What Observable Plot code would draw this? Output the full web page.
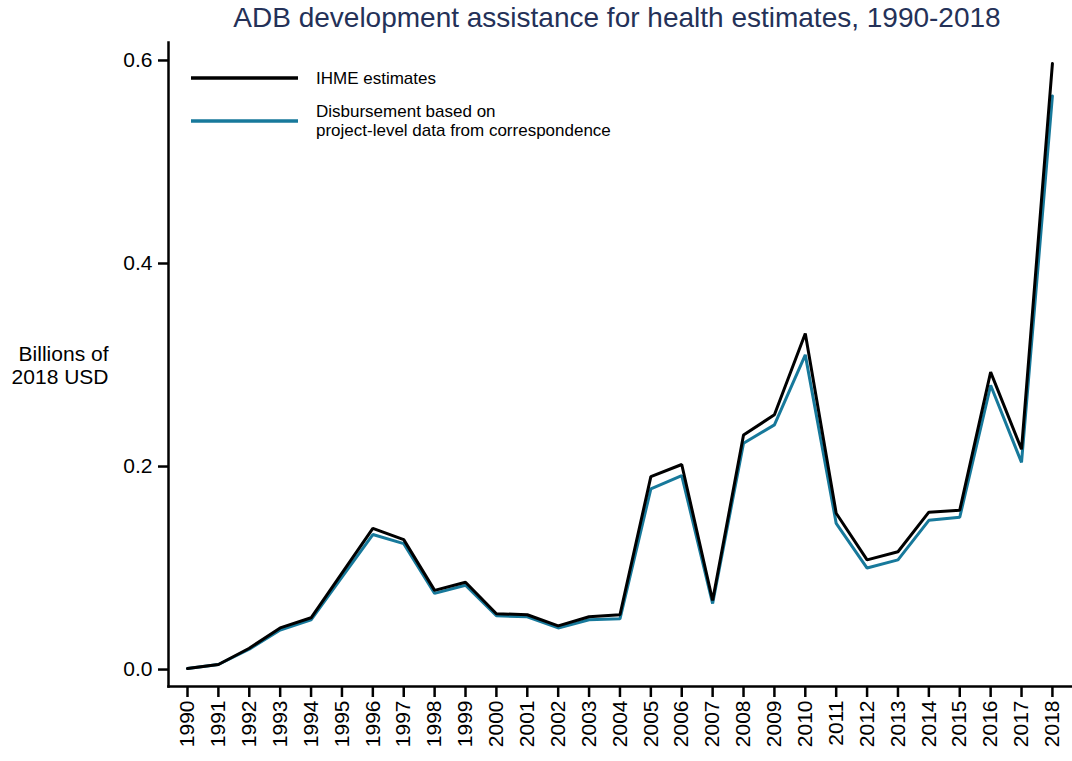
<!DOCTYPE html>
<html>
<head>
<meta charset="utf-8">
<script src="https://cdn.jsdelivr.net/npm/d3@7"></script>
<script src="https://cdn.jsdelivr.net/npm/@observablehq/plot@0.6"></script>
<style>
  html, body { margin: 0; padding: 0; background: #fff; }
  #wrap { position: relative; width: 1072px; height: 761px; font-family: "Liberation Sans", Arial, sans-serif; }
  #title { position: absolute; top: 3px; left: 0; width: 1234px; text-align: center; font-size: 28px; line-height: 30px; color: #243158; white-space: nowrap; }
  #chart { position: absolute; top: 0; left: 0; }
</style>
</head>
<body>
<div id="wrap">
  <div id="chart"></div>
  <div id="title">ADB development assistance for health estimates, 1990-2018</div>
</div>
<script>
const years = [1990,1991,1992,1993,1994,1995,1996,1997,1998,1999,2000,2001,2002,2003,2004,2005,2006,2007,2008,2009,2010,2011,2012,2013,2014,2015,2016,2017,2018];
const ihme = [0.001,0.005,0.021,0.041,0.051,0.095,0.139,0.128,0.078,0.086,0.055,0.054,0.043,0.052,0.054,0.190,0.202,0.068,0.231,0.251,0.331,0.154,0.108,0.116,0.155,0.157,0.293,0.217,0.597];
const disbursement = [0.001,0.005,0.020,0.039,0.049,0.091,0.133,0.124,0.075,0.083,0.053,0.052,0.041,0.049,0.050,0.178,0.191,0.065,0.223,0.241,0.310,0.144,0.100,0.108,0.147,0.150,0.280,0.204,0.565];
const yTicks = [0, 0.2, 0.4, 0.6];
const seriesNames = ["IHME estimates", "Disbursement based on\nproject-level data from correspondence"];
const yLabel = "Billions of\n2018 USD";

const BLUE = "#17799b";
const rowsI = years.map((y, i) => ({year: y, value: ihme[i]}));
const rowsD = years.map((y, i) => ({year: y, value: disbursement[i]}));

const plot = Plot.plot({
  width: 1072,
  height: 761,
  marginLeft: 168,
  marginRight: 0,
  marginTop: 42,
  marginBottom: 75,
  style: {fontFamily: "Liberation Sans, Arial, sans-serif", color: "#000", background: "#fff"},
  x: {domain: [1989.385, 2018.65]},
  y: {domain: [-0.0167, 0.6177]},
  marks: [
    Plot.frame({anchor: "left", stroke: "#000", strokeWidth: 2.5}),
    Plot.frame({anchor: "bottom", stroke: "#000", strokeWidth: 2.5}),
    Plot.axisY({ticks: yTicks, tickFormat: d3.format(".1f"), tickSize: 10, tickPadding: 6, fontSize: 21, strokeWidth: 2.5, label: null}),
    Plot.axisX({ticks: years, tickFormat: d3.format("d"), tickSize: 11, tickPadding: 3, tickRotate: -90, fontSize: 21, strokeWidth: 2.5, label: null}),
    Plot.text([yLabel], {frameAnchor: "left", y: [0.3], dx: -60, text: d => d, textAnchor: "end", lineAnchor: "middle", fontSize: 21, lineHeight: 1.12}),
    Plot.line(rowsD, {x: "year", y: "value", stroke: BLUE, strokeWidth: 3, strokeLinejoin: "miter"}),
    Plot.line(rowsI, {x: "year", y: "value", stroke: "#000", strokeWidth: 3, strokeLinejoin: "miter"})
  ]
});

document.getElementById("chart").appendChild(plot);

// legend
const svg = d3.select(plot);
const leg = svg.append("g")
  .attr("font-family", "Liberation Sans, Arial, sans-serif")
  .attr("font-size", 17)
  .attr("text-anchor", "start");
const entries = [
  {name: seriesNames[0], color: "#000", ly: 78},
  {name: seriesNames[1], color: BLUE, ly: 121}
];
entries.forEach(e => {
  leg.append("line").attr("x1", 191).attr("x2", 298).attr("y1", e.ly).attr("y2", e.ly)
    .attr("stroke", e.color).attr("stroke-width", 3.5);
  const lines = e.name.split("\n");
  const t = leg.append("text").attr("fill", "#000").attr("text-anchor", "start");
  const start = e.ly - (lines.length - 1) * 19 / 2;
  lines.forEach((l, i) => {
    t.append("tspan").attr("x", 316).attr("y", start + i * 19).attr("dy", "0.35em").text(l);
  });
});
</script>
</body>
</html>
